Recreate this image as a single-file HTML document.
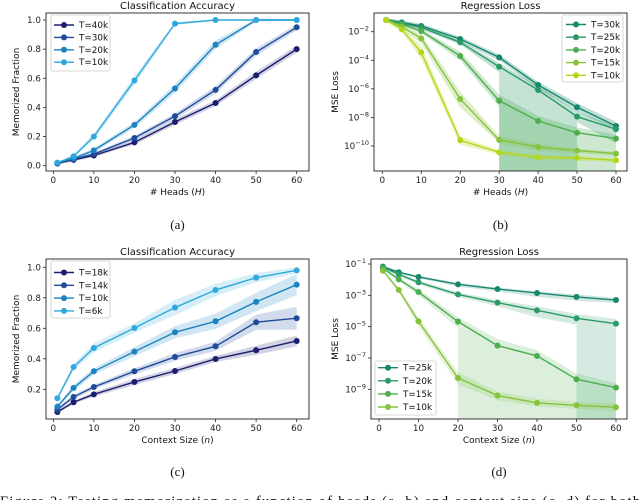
<!DOCTYPE html>
<html><head><meta charset="utf-8">
<style>
html,body{margin:0;padding:0;background:#fff;}
svg{display:block;font-family:"DejaVu Sans","Liberation Sans",sans-serif;}
</style></head>
<body>
<svg id="fig" width="640" height="500" viewBox="0 0 640 500" xmlns="http://www.w3.org/2000/svg"></svg>
<script>
const xs = [1,5,10,20,30,40,50,60];
// (a) classification vs heads
const aLabels = ["T=40k","T=30k","T=20k","T=10k"];
const aVals = [
 [0.015,0.04,0.07,0.16,0.30,0.43,0.62,0.80],
 [0.015,0.045,0.08,0.19,0.34,0.52,0.78,0.95],
 [0.02,0.05,0.105,0.28,0.53,0.83,1.0,1.0],
 [0.02,0.065,0.20,0.585,0.975,1.0,1.0,1.0]];
const aErr = [
 [0.005,0.01,0.01,0.015,0.02,0.02,0.025,0.025],
 [0.005,0.01,0.01,0.015,0.02,0.025,0.025,0.02],
 [0.005,0.01,0.015,0.02,0.03,0.03,0.01,0.005],
 [0.005,0.01,0.02,0.03,0.01,0.005,0.005,0.005]];
// (c) classification vs context
const cLabels = ["T=18k","T=14k","T=10k","T=6k"];
const cVals = [
 [0.051,0.115,0.167,0.248,0.32,0.399,0.456,0.517],
 [0.067,0.15,0.215,0.318,0.412,0.482,0.64,0.666],
 [0.086,0.209,0.318,0.447,0.574,0.646,0.773,0.886],
 [0.141,0.346,0.471,0.602,0.736,0.851,0.932,0.98]];
const cErr = [
 [0.01,0.01,0.015,0.02,0.02,0.02,0.03,0.035],
 [0.01,0.015,0.015,0.02,0.025,0.03,0.05,0.075],
 [0.01,0.02,0.02,0.03,0.04,0.05,0.06,0.07],
 [0.01,0.02,0.03,0.03,0.05,0.04,0.03,0.02]];
// (b) regression vs heads (log10 MSE)
const bLabels = ["T=30k","T=25k","T=20k","T=15k","T=10k"];
const bVals = [
 [-1.18,-1.35,-1.6,-2.51,-3.8,-5.73,-7.29,-8.6],
 [-1.18,-1.42,-1.7,-2.75,-4.45,-6.08,-7.94,-8.83],
 [-1.18,-1.49,-1.95,-3.7,-6.83,-8.25,-9.07,-9.48],
 [-1.18,-1.65,-2.47,-6.71,-9.58,-10.07,-10.32,-10.53],
 [-1.18,-1.84,-3.45,-9.6,-10.44,-10.79,-10.83,-11.0]];
const bHi = [
 [-1.05,-1.2,-1.45,-2.35,-3.6,-5.5,-7.0,-8.3],
 [-1.05,-1.3,-1.6,-2.6,-4.2,-5.8,-7.6,-8.6],
 [-1.05,-1.35,-1.8,-3.4,-6.4,-7.9,-8.7,-9.2],
 [-1.05,-1.5,-2.2,-6.2,-9.3,-9.9,-10.2,-10.4],
 [-1.05,-1.7,-3.0,-9.3,-10.3,-10.65,-10.7,-10.9]];
const bLo = [
 [-1.3,-1.5,-1.75,-2.7,-4.0,-6.0,-7.6,-8.9],
 [-1.3,-1.55,-1.85,-2.9,null,null,null,-9.8],
 [-1.3,-1.6,-2.1,-4.0,null,null,null,null],
 [-1.3,-1.8,-2.8,-7.3,-9.8,-10.3,-10.5,-10.7],
 [-1.3,-2.0,-3.9,-9.9,-10.6,-10.95,-11.0,-11.15]];
// (d) regression vs context
const dLabels = ["T=25k","T=20k","T=15k","T=10k"];
const dVals = [
 [-1.17,-1.53,-1.83,-2.3,-2.6,-2.85,-3.1,-3.3],
 [-1.21,-1.66,-2.17,-2.94,-3.47,-3.96,-4.47,-4.81],
 [-1.28,-1.98,-2.79,-4.68,-6.21,-6.87,-8.36,-8.89],
 [-1.43,-2.66,-4.66,-8.28,-9.4,-9.87,-10.02,-10.15]];
const dHi = [
 [-1.1,-1.45,-1.75,-2.2,-2.5,-2.75,-2.95,-3.15],
 [-1.15,-1.55,-2.05,-2.8,-3.3,-3.7,-4.2,-4.5],
 [-1.2,-1.85,-2.6,-4.4,-5.8,-6.5,-8.0,-8.6],
 [-1.35,-2.5,-4.4,-7.9,-9.15,-9.6,-9.8,-9.9]];
const dLo = [
 [-1.25,-1.6,-1.9,-2.45,-2.75,-3.1,-3.35,-3.5],
 [-1.3,-1.8,-2.3,-3.1,-3.7,-4.4,null,null],
 [-1.35,-2.1,-3.0,null,null,null,null,null],
 [-1.5,-2.8,-5.0,-8.7,-9.7,-10.1,-10.25,-10.4]];
const xTicks = [0,10,20,30,40,50,60];
const linTicks = ["0.0","0.2","0.4","0.6","0.8","1.0"];
const cTicks = ["0.2","0.4","0.6","0.8","1.0"];
const bTicks = [-2,-4,-6,-8,-10];
const dTicks = [-1,-3,-5,-7,-9];

const blues = ["#1b1d6e","#1f4c9a","#1b83c1","#2fa9dd"];
const greensB = ["#17876d","#2c9a67","#4cae4f","#86c33c","#b3d61a"];
const greensD = ["#17876d","#2c9a67","#4cae4f","#86c33c"];

const svg = document.getElementById('fig');
const NS = "http://www.w3.org/2000/svg";
function mk(tag, attrs, parent){const e=document.createElementNS(NS,tag);for(const k in attrs)e.setAttribute(k,attrs[k]);(parent||svg).appendChild(e);return e;}
function txt(s, attrs, parent){const e=mk('text',attrs,parent);e.textContent=s;return e;}

function panel(cfg){
  const g = mk('g',{});
  
  
  const X = v => cfg.x0 + (v - 0) * (cfg.x60 - cfg.x0) / 60;
  const Y = v => cfg.yA + (v - cfg.vA) * (cfg.yB - cfg.yA) / (cfg.vB - cfg.vA);
  const bot = cfg.box[3];
  cfg.vals.forEach((vals, s) => {
    let pts = [];
    for (let i=0;i<xs.length;i++) pts.push([X(xs[i]), Y(cfg.hi[s][i])]);
    for (let i=xs.length-1;i>=0;i--){
      const lo = cfg.lo[s][i];
      if (lo === null){
        const nextNN = i+1<xs.length && cfg.lo[s][i+1]!==null;
        const prevNN = i-1>=0 && cfg.lo[s][i-1]!==null;
        if (nextNN) pts.push([X(xs[i]), Y(vals[i]-(cfg.log?0.4:0))]);
        pts.push([X(xs[i]), bot]);
        if (prevNN) pts.push([X(xs[i]), Y(vals[i]-(cfg.log?0.4:0))]);
      } else pts.push([X(xs[i]), Math.min(Y(lo), bot)]);
    }
    const p = mk('polygon',{points:pts.map(q=>q.join(',')).join(' '),fill:cfg.colors[s],'fill-opacity':cfg.bandOp,stroke:'none'},g);
    
    
  });
  cfg.vals.forEach((vals, s) => {
    const pl = mk('polyline',{points:vals.map((v,i)=>X(xs[i])+','+Y(v)).join(' '),fill:'none',stroke:cfg.colors[s],'stroke-width':1.4},g);
    
    
    vals.forEach((v,i)=>{
      const c = mk('circle',{cx:X(xs[i]),cy:Y(v),r:3,fill:cfg.colors[s]},g);
      
      
    });
  });
  const [l,t,r,b] = cfg.box;
  const bx = mk('rect',{x:l,y:t,width:r-l,height:b-t,fill:'none',stroke:'#222','stroke-width':0.9},g);
  
  
  xTicks.forEach(v=>{
    mk('line',{x1:X(v),x2:X(v),y1:b,y2:b+3,stroke:'#222','stroke-width':0.8},g);
    const tt = txt(String(v),{x:X(v),y:b+12,'font-size':8.8,'text-anchor':'middle',fill:'#222'},g);
    
    
  });
  cfg.yTicks.forEach(v=>{
    const val = cfg.log ? v : parseFloat(v);
    const yy = Y(val);
    mk('line',{x1:l-3,x2:l,y1:yy,y2:yy,stroke:'#222','stroke-width':0.8},g);
    let tt;
    if (cfg.log){
      tt = txt('',{x:l-5,y:yy+3,'font-size':8.8,'text-anchor':'end',fill:'#222'},g);
      const a = document.createElementNS(NS,'tspan'); a.textContent='10'; tt.appendChild(a);
      const e = document.createElementNS(NS,'tspan'); e.setAttribute('dy','-4'); e.setAttribute('font-size','6.5'); e.textContent='\u2212'+(-v); tt.appendChild(e);
    } else tt = txt(v,{x:l-5,y:yy+3,'font-size':8.8,'text-anchor':'end',fill:'#222'},g);
    
    
  });
  const ti = txt(cfg.title,{x:(l+r)/2,y:t-4,'font-size':10,'text-anchor':'middle',fill:'#111'},g);
   
  const xl = txt('',{x:(l+r)/2,y:b+24,'font-size':9,'text-anchor':'middle',fill:'#111'},g);
  xl.textContent = cfg.xlabel[0];
  const it = document.createElementNS(NS,'tspan'); it.setAttribute('font-style','italic'); it.textContent=cfg.xlabel[1]; xl.appendChild(it);
  const cl = document.createElementNS(NS,'tspan'); cl.textContent=')'; xl.appendChild(cl);
   
  const yl = txt(cfg.ylabel,{x:0,y:0,'font-size':9,'text-anchor':'middle',fill:'#111',transform:`translate(${cfg.ylx},${(t+b)/2}) rotate(-90)`},g);
   
  const pl = txt(cfg.letter,{x:(l+r)/2,y:cfg.letterY,'font-size':13,'text-anchor':'middle',fill:'#111','font-family':'"Liberation Serif",serif'},g);
   
  const L = cfg.leg;
  const lg = mk('g',{},g);
   
  mk('rect',{x:L.x,y:L.y,width:L.w,height:L.h,rx:2,fill:'#fff','fill-opacity':0.85,stroke:'#ccc','stroke-width':0.8},lg);
  cfg.labels.forEach((lab,s)=>{
    const yy = L.y0 + s*L.dy;
    const e = mk('g',{},lg);
     
    mk('line',{x1:L.lx,x2:L.lx+20,y1:yy,y2:yy,stroke:cfg.colors[s],'stroke-width':1.4},e);
    mk('circle',{cx:L.lx+10,cy:yy,r:3,fill:cfg.colors[s]},e);
    txt(lab,{x:L.lx+25,y:yy+3,'font-size':8.8,fill:'#111'},e);
  });
}

panel({name:'chart-a-classification-heads',title:'Classification Accuracy',xlabel:['# Heads (','H'],ylabel:'Memorized Fraction',letter:'(a)',letterY:229,
 box:[46,13,309,171],x0:53.3,x60:296.7,vA:0,yA:165.7,vB:1,yB:20,log:false,yTicks:linTicks,ylx:19,
 vals:aVals,hi:aVals.map((v,s)=>v.map((x,i)=>x+aErr[s][i])),lo:aVals.map((v,s)=>v.map((x,i)=>x-aErr[s][i])),colors:blues,bandOp:0.2,labels:aLabels,
 leg:{x:51,y:15,w:59,h:56,lx:54,y0:25,dy:12.4}});
panel({name:'chart-b-regression-heads',title:'Regression Loss',xlabel:['# Heads (','H'],ylabel:'MSE Loss',letter:'(b)',letterY:229,
 box:[374,13,627,171],x0:382.3,x60:616,vA:-2,yA:31.7,vB:-10,yB:146,log:true,yTicks:bTicks,ylx:338,
 vals:bVals,hi:bHi,lo:bLo,colors:greensB,bandOp:0.28,labels:bLabels,
 leg:{x:562,y:15,w:61,h:67,lx:566,y0:24.5,dy:12.7}});
panel({name:'chart-c-classification-context',title:'Classification Accuracy',xlabel:['Context Size (','n'],ylabel:'Memorized Fraction',letter:'(c)',letterY:476,
 box:[46,259,309,419],x0:53.3,x60:296.7,vA:1,yA:267.3,vB:0.2,yB:389.3,log:false,yTicks:cTicks,ylx:19,
 vals:cVals,hi:cVals.map((v,s)=>v.map((x,i)=>x+cErr[s][i])),lo:cVals.map((v,s)=>v.map((x,i)=>x-cErr[s][i])),colors:blues,bandOp:0.2,labels:cLabels,
 leg:{x:51,y:261,w:59,h:57,lx:54,y0:272.5,dy:12.8}});
panel({name:'chart-d-regression-context',title:'Regression Loss',xlabel:['Context Size (','n'],ylabel:'MSE Loss',letter:'(d)',letterY:476,
 box:[371,259,627,419],x0:379,x60:616,vA:-1,yA:264,vB:-9,yB:389.3,log:true,yTicks:dTicks,ylx:338,
 vals:dVals,hi:dHi,lo:dLo,colors:greensD,bandOp:0.2,labels:dLabels,
 leg:{x:375,y:361,w:61,h:54,lx:378,y0:367.7,dy:13.1}});

const cap = txt('Figure 2:  Testing memorization as a function of heads (a, b) and context size (c, d) for both',{x:0,y:506,'font-size':14.5,fill:'#111','font-family':'"Liberation Serif",serif',textLength:640});


</script>
</body></html>
